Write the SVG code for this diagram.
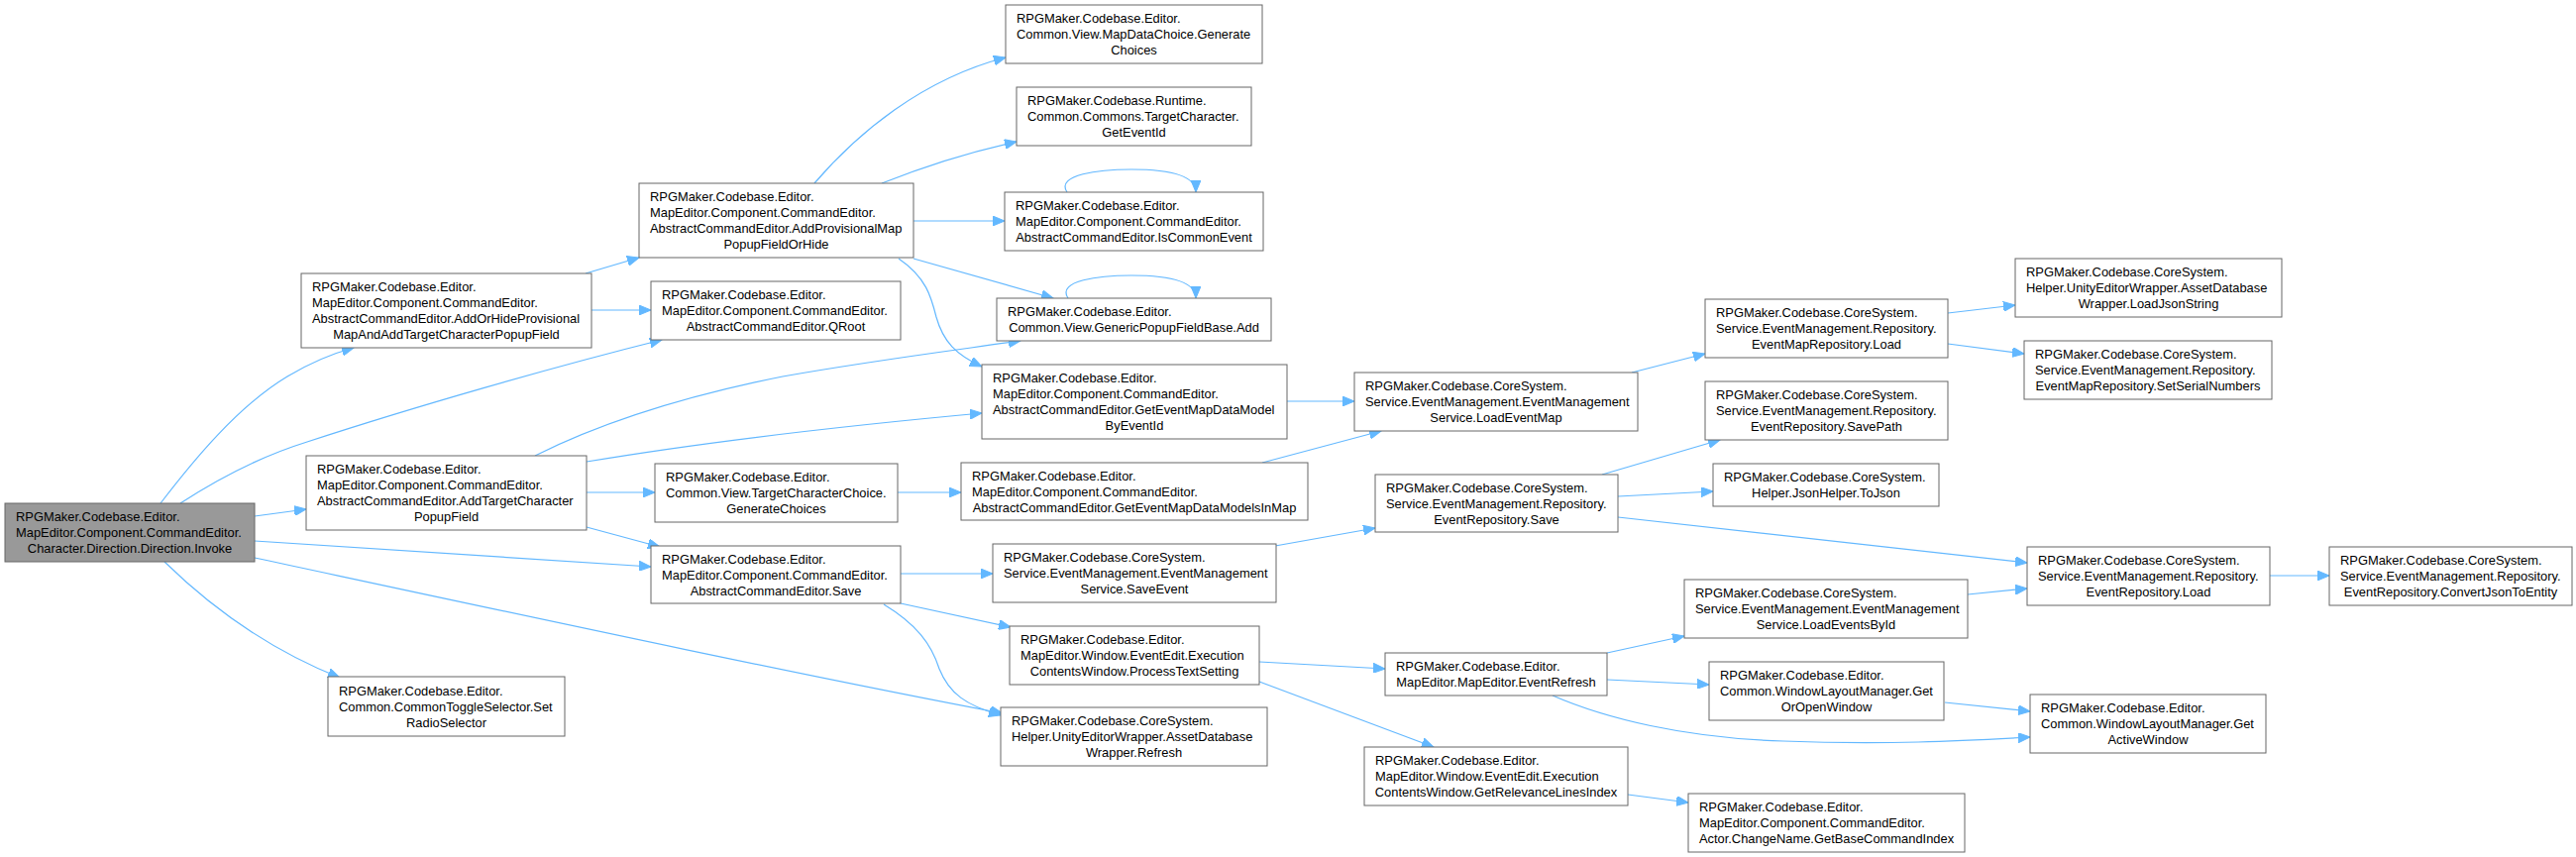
<svg xmlns="http://www.w3.org/2000/svg" width="2600" height="865" viewBox="0 0 2600 865">
<style>
.n rect{fill:#ffffff;stroke:#666666;stroke-width:1}
.root rect{fill:#999999;stroke:#666666;stroke-width:1}
text{font-family:"Liberation Sans",Arial,sans-serif;font-size:12.9px;fill:#000000}
.c{text-anchor:middle}
.e path{fill:none;stroke:#63b8ff;stroke-width:1.2;marker-end:url(#ah)}
</style>
<defs>
<marker id="ah" markerWidth="13" markerHeight="10" refX="12" refY="5" orient="auto" markerUnits="userSpaceOnUse">
<path d="M0,0 L12,5 L0,10 z" fill="#63b8ff" stroke="#63b8ff"/>
</marker>
</defs>
<rect width="2600" height="865" fill="#ffffff"/>
<g class="e" id="edges">
<path d="M162,508 C195,465 240,410 290,380 C315,365 335,357 357,351"/>
<path d="M182,508 C225,480 265,460 310,446 C420,410 560,370 668,343"/>
<path d="M257,521 L309,514"/>
<path d="M257,546 L657,572"/>
<path d="M257,563 C500,615 800,680 1012,720"/>
<path d="M166,567 C210,610 270,655 343,684"/>
<path d="M591,276 L645,260"/>
<path d="M597,313 L657,313"/>
<path d="M540,460 C610,425 700,398 790,380 C880,364 960,354 1030,344"/>
<path d="M592,466 C700,448 850,430 991,417"/>
<path d="M592,497 L661,497"/>
<path d="M592,532 L666,552"/>
<path d="M822,185 C865,135 930,80 1015,58"/>
<path d="M890,185 C940,165 985,152 1026,143"/>
<path d="M922,223 L1014,223"/>
<path d="M922,261 L1063,301"/>
<path d="M907,261 C935,280 940,300 945,320 C952,345 965,358 991,370"/>
<path d="M1077,194 C1065,176 1110,171 1142,171 C1180,171 1207,177 1207,194"/>
<path d="M1078,301 C1066,283 1110,278 1142,278 C1180,278 1207,284 1207,301"/>
<path d="M909,579 L1002,579"/>
<path d="M909,609 L1020,633"/>
<path d="M892,610 C925,630 940,650 948,675 C958,700 975,712 1010,722"/>
<path d="M906,497 L970,497"/>
<path d="M1299,405 L1367,405"/>
<path d="M1274,467 L1394,435"/>
<path d="M1287,551 L1388,533"/>
<path d="M1271,668 L1398,675"/>
<path d="M1271,688 L1447,754"/>
<path d="M1647,376 L1721,357"/>
<path d="M1617,479 L1736,444"/>
<path d="M1633,501 L1729,496"/>
<path d="M1633,522 L2046,568"/>
<path d="M1622,659 L1700,642"/>
<path d="M1622,686 L1725,691"/>
<path d="M1567,702 C1620,725 1700,745 1800,748 C1900,752 1980,748 2049,744"/>
<path d="M1643,802 L1704,810"/>
<path d="M1966,316 L2034,308"/>
<path d="M1966,347 L2043,357"/>
<path d="M1986,600 L2046,594"/>
<path d="M1963,709 L2049,718"/>
<path d="M2291,581 L2351,581"/>
</g>
<g class="root" id="node0"><rect x="5" y="508" width="252" height="59"/><text><tspan x="16" y="526">RPGMaker.Codebase.Editor.</tspan><tspan x="16" y="542">MapEditor.Component.CommandEditor.</tspan><tspan class="c" x="131" y="558">Character.Direction.Direction.Invoke</tspan></text></g>
<g class="n" id="node1"><rect x="304" y="276" width="293" height="75"/><text><tspan x="315" y="294">RPGMaker.Codebase.Editor.</tspan><tspan x="315" y="310">MapEditor.Component.CommandEditor.</tspan><tspan x="315" y="326">AbstractCommandEditor.AddOrHideProvisional</tspan><tspan class="c" x="450.5" y="342">MapAndAddTargetCharacterPopupField</tspan></text></g>
<g class="n" id="node2"><rect x="309" y="460" width="283" height="75"/><text><tspan x="320" y="478">RPGMaker.Codebase.Editor.</tspan><tspan x="320" y="494">MapEditor.Component.CommandEditor.</tspan><tspan x="320" y="510">AbstractCommandEditor.AddTargetCharacter</tspan><tspan class="c" x="450.5" y="526">PopupField</tspan></text></g>
<g class="n" id="node3"><rect x="331" y="683" width="239" height="60"/><text><tspan x="342" y="701.5">RPGMaker.Codebase.Editor.</tspan><tspan x="342" y="717.5">Common.CommonToggleSelector.Set</tspan><tspan class="c" x="450.5" y="733.5">RadioSelector</tspan></text></g>
<g class="n" id="node4"><rect x="645" y="185" width="277" height="75"/><text><tspan x="656" y="203">RPGMaker.Codebase.Editor.</tspan><tspan x="656" y="219">MapEditor.Component.CommandEditor.</tspan><tspan x="656" y="235">AbstractCommandEditor.AddProvisionalMap</tspan><tspan class="c" x="783.5" y="251">PopupFieldOrHide</tspan></text></g>
<g class="n" id="node5"><rect x="657" y="284" width="252" height="59"/><text><tspan x="668" y="302">RPGMaker.Codebase.Editor.</tspan><tspan x="668" y="318">MapEditor.Component.CommandEditor.</tspan><tspan class="c" x="783" y="334">AbstractCommandEditor.QRoot</tspan></text></g>
<g class="n" id="node6"><rect x="661" y="468" width="245" height="59"/><text><tspan x="672" y="486">RPGMaker.Codebase.Editor.</tspan><tspan x="672" y="502">Common.View.TargetCharacterChoice.</tspan><tspan class="c" x="783.5" y="518">GenerateChoices</tspan></text></g>
<g class="n" id="node7"><rect x="657" y="551" width="252" height="58"/><text><tspan x="668" y="568.5">RPGMaker.Codebase.Editor.</tspan><tspan x="668" y="584.5">MapEditor.Component.CommandEditor.</tspan><tspan class="c" x="783" y="600.5">AbstractCommandEditor.Save</tspan></text></g>
<g class="n" id="node8"><rect x="1015" y="5" width="259" height="59"/><text><tspan x="1026" y="23">RPGMaker.Codebase.Editor.</tspan><tspan x="1026" y="39">Common.View.MapDataChoice.Generate</tspan><tspan class="c" x="1144.5" y="55">Choices</tspan></text></g>
<g class="n" id="node9"><rect x="1026" y="88" width="237" height="59"/><text><tspan x="1037" y="106">RPGMaker.Codebase.Runtime.</tspan><tspan x="1037" y="122">Common.Commons.TargetCharacter.</tspan><tspan class="c" x="1144.5" y="138">GetEventId</tspan></text></g>
<g class="n" id="node10"><rect x="1014" y="194" width="261" height="59"/><text><tspan x="1025" y="212">RPGMaker.Codebase.Editor.</tspan><tspan x="1025" y="228">MapEditor.Component.CommandEditor.</tspan><tspan class="c" x="1144.5" y="244">AbstractCommandEditor.IsCommonEvent</tspan></text></g>
<g class="n" id="node11"><rect x="1006" y="301" width="277" height="43"/><text><tspan x="1017" y="319">RPGMaker.Codebase.Editor.</tspan><tspan class="c" x="1144.5" y="335">Common.View.GenericPopupFieldBase.Add</tspan></text></g>
<g class="n" id="node12"><rect x="991" y="368" width="308" height="75"/><text><tspan x="1002" y="386">RPGMaker.Codebase.Editor.</tspan><tspan x="1002" y="402">MapEditor.Component.CommandEditor.</tspan><tspan x="1002" y="418">AbstractCommandEditor.GetEventMapDataModel</tspan><tspan class="c" x="1145" y="434">ByEventId</tspan></text></g>
<g class="n" id="node13"><rect x="970" y="467" width="350" height="58"/><text><tspan x="981" y="484.5">RPGMaker.Codebase.Editor.</tspan><tspan x="981" y="500.5">MapEditor.Component.CommandEditor.</tspan><tspan class="c" x="1145" y="516.5">AbstractCommandEditor.GetEventMapDataModelsInMap</tspan></text></g>
<g class="n" id="node14"><rect x="1002" y="549" width="286" height="59"/><text><tspan x="1013" y="567">RPGMaker.Codebase.CoreSystem.</tspan><tspan x="1013" y="583">Service.EventManagement.EventManagement</tspan><tspan class="c" x="1145" y="599">Service.SaveEvent</tspan></text></g>
<g class="n" id="node15"><rect x="1019" y="632" width="252" height="59"/><text><tspan x="1030" y="650">RPGMaker.Codebase.Editor.</tspan><tspan x="1030" y="666">MapEditor.Window.EventEdit.Execution</tspan><tspan class="c" x="1145" y="682">ContentsWindow.ProcessTextSetting</tspan></text></g>
<g class="n" id="node16"><rect x="1010" y="714" width="269" height="59"/><text><tspan x="1021" y="732">RPGMaker.Codebase.CoreSystem.</tspan><tspan x="1021" y="748">Helper.UnityEditorWrapper.AssetDatabase</tspan><tspan class="c" x="1144.5" y="764">Wrapper.Refresh</tspan></text></g>
<g class="n" id="node17"><rect x="1367" y="376" width="286" height="59"/><text><tspan x="1378" y="394">RPGMaker.Codebase.CoreSystem.</tspan><tspan x="1378" y="410">Service.EventManagement.EventManagement</tspan><tspan class="c" x="1510" y="426">Service.LoadEventMap</tspan></text></g>
<g class="n" id="node18"><rect x="1388" y="479" width="245" height="58"/><text><tspan x="1399" y="496.5">RPGMaker.Codebase.CoreSystem.</tspan><tspan x="1399" y="512.5">Service.EventManagement.Repository.</tspan><tspan class="c" x="1510.5" y="528.5">EventRepository.Save</tspan></text></g>
<g class="n" id="node19"><rect x="1398" y="659" width="224" height="43"/><text><tspan x="1409" y="677">RPGMaker.Codebase.Editor.</tspan><tspan class="c" x="1510" y="693">MapEditor.MapEditor.EventRefresh</tspan></text></g>
<g class="n" id="node20"><rect x="1377" y="754" width="266" height="59"/><text><tspan x="1388" y="772">RPGMaker.Codebase.Editor.</tspan><tspan x="1388" y="788">MapEditor.Window.EventEdit.Execution</tspan><tspan class="c" x="1510" y="804">ContentsWindow.GetRelevanceLinesIndex</tspan></text></g>
<g class="n" id="node21"><rect x="1721" y="302" width="245" height="59"/><text><tspan x="1732" y="320">RPGMaker.Codebase.CoreSystem.</tspan><tspan x="1732" y="336">Service.EventManagement.Repository.</tspan><tspan class="c" x="1843.5" y="352">EventMapRepository.Load</tspan></text></g>
<g class="n" id="node22"><rect x="1721" y="385" width="245" height="59"/><text><tspan x="1732" y="403">RPGMaker.Codebase.CoreSystem.</tspan><tspan x="1732" y="419">Service.EventManagement.Repository.</tspan><tspan class="c" x="1843.5" y="435">EventRepository.SavePath</tspan></text></g>
<g class="n" id="node23"><rect x="1729" y="468" width="228" height="43"/><text><tspan x="1740" y="486">RPGMaker.Codebase.CoreSystem.</tspan><tspan class="c" x="1843" y="502">Helper.JsonHelper.ToJson</tspan></text></g>
<g class="n" id="node24"><rect x="1700" y="585" width="286" height="59"/><text><tspan x="1711" y="603">RPGMaker.Codebase.CoreSystem.</tspan><tspan x="1711" y="619">Service.EventManagement.EventManagement</tspan><tspan class="c" x="1843" y="635">Service.LoadEventsById</tspan></text></g>
<g class="n" id="node25"><rect x="1725" y="668" width="237" height="59"/><text><tspan x="1736" y="686">RPGMaker.Codebase.Editor.</tspan><tspan x="1736" y="702">Common.WindowLayoutManager.Get</tspan><tspan class="c" x="1843.5" y="718">OrOpenWindow</tspan></text></g>
<g class="n" id="node26"><rect x="1704" y="801" width="279" height="59"/><text><tspan x="1715" y="819">RPGMaker.Codebase.Editor.</tspan><tspan x="1715" y="835">MapEditor.Component.CommandEditor.</tspan><tspan class="c" x="1843.5" y="851">Actor.ChangeName.GetBaseCommandIndex</tspan></text></g>
<g class="n" id="node27"><rect x="2034" y="261" width="269" height="59"/><text><tspan x="2045" y="279">RPGMaker.Codebase.CoreSystem.</tspan><tspan x="2045" y="295">Helper.UnityEditorWrapper.AssetDatabase</tspan><tspan class="c" x="2168.5" y="311">Wrapper.LoadJsonString</tspan></text></g>
<g class="n" id="node28"><rect x="2043" y="344" width="250" height="59"/><text><tspan x="2054" y="362">RPGMaker.Codebase.CoreSystem.</tspan><tspan x="2054" y="378">Service.EventManagement.Repository.</tspan><tspan class="c" x="2168" y="394">EventMapRepository.SetSerialNumbers</tspan></text></g>
<g class="n" id="node29"><rect x="2046" y="552" width="245" height="59"/><text><tspan x="2057" y="570">RPGMaker.Codebase.CoreSystem.</tspan><tspan x="2057" y="586">Service.EventManagement.Repository.</tspan><tspan class="c" x="2168.5" y="602">EventRepository.Load</tspan></text></g>
<g class="n" id="node30"><rect x="2351" y="552" width="245" height="59"/><text><tspan x="2362" y="570">RPGMaker.Codebase.CoreSystem.</tspan><tspan x="2362" y="586">Service.EventManagement.Repository.</tspan><tspan class="c" x="2473.5" y="602">EventRepository.ConvertJsonToEntity</tspan></text></g>
<g class="n" id="node31"><rect x="2049" y="701" width="238" height="59"/><text><tspan x="2060" y="719">RPGMaker.Codebase.Editor.</tspan><tspan x="2060" y="735">Common.WindowLayoutManager.Get</tspan><tspan class="c" x="2168" y="751">ActiveWindow</tspan></text></g>
</svg>
